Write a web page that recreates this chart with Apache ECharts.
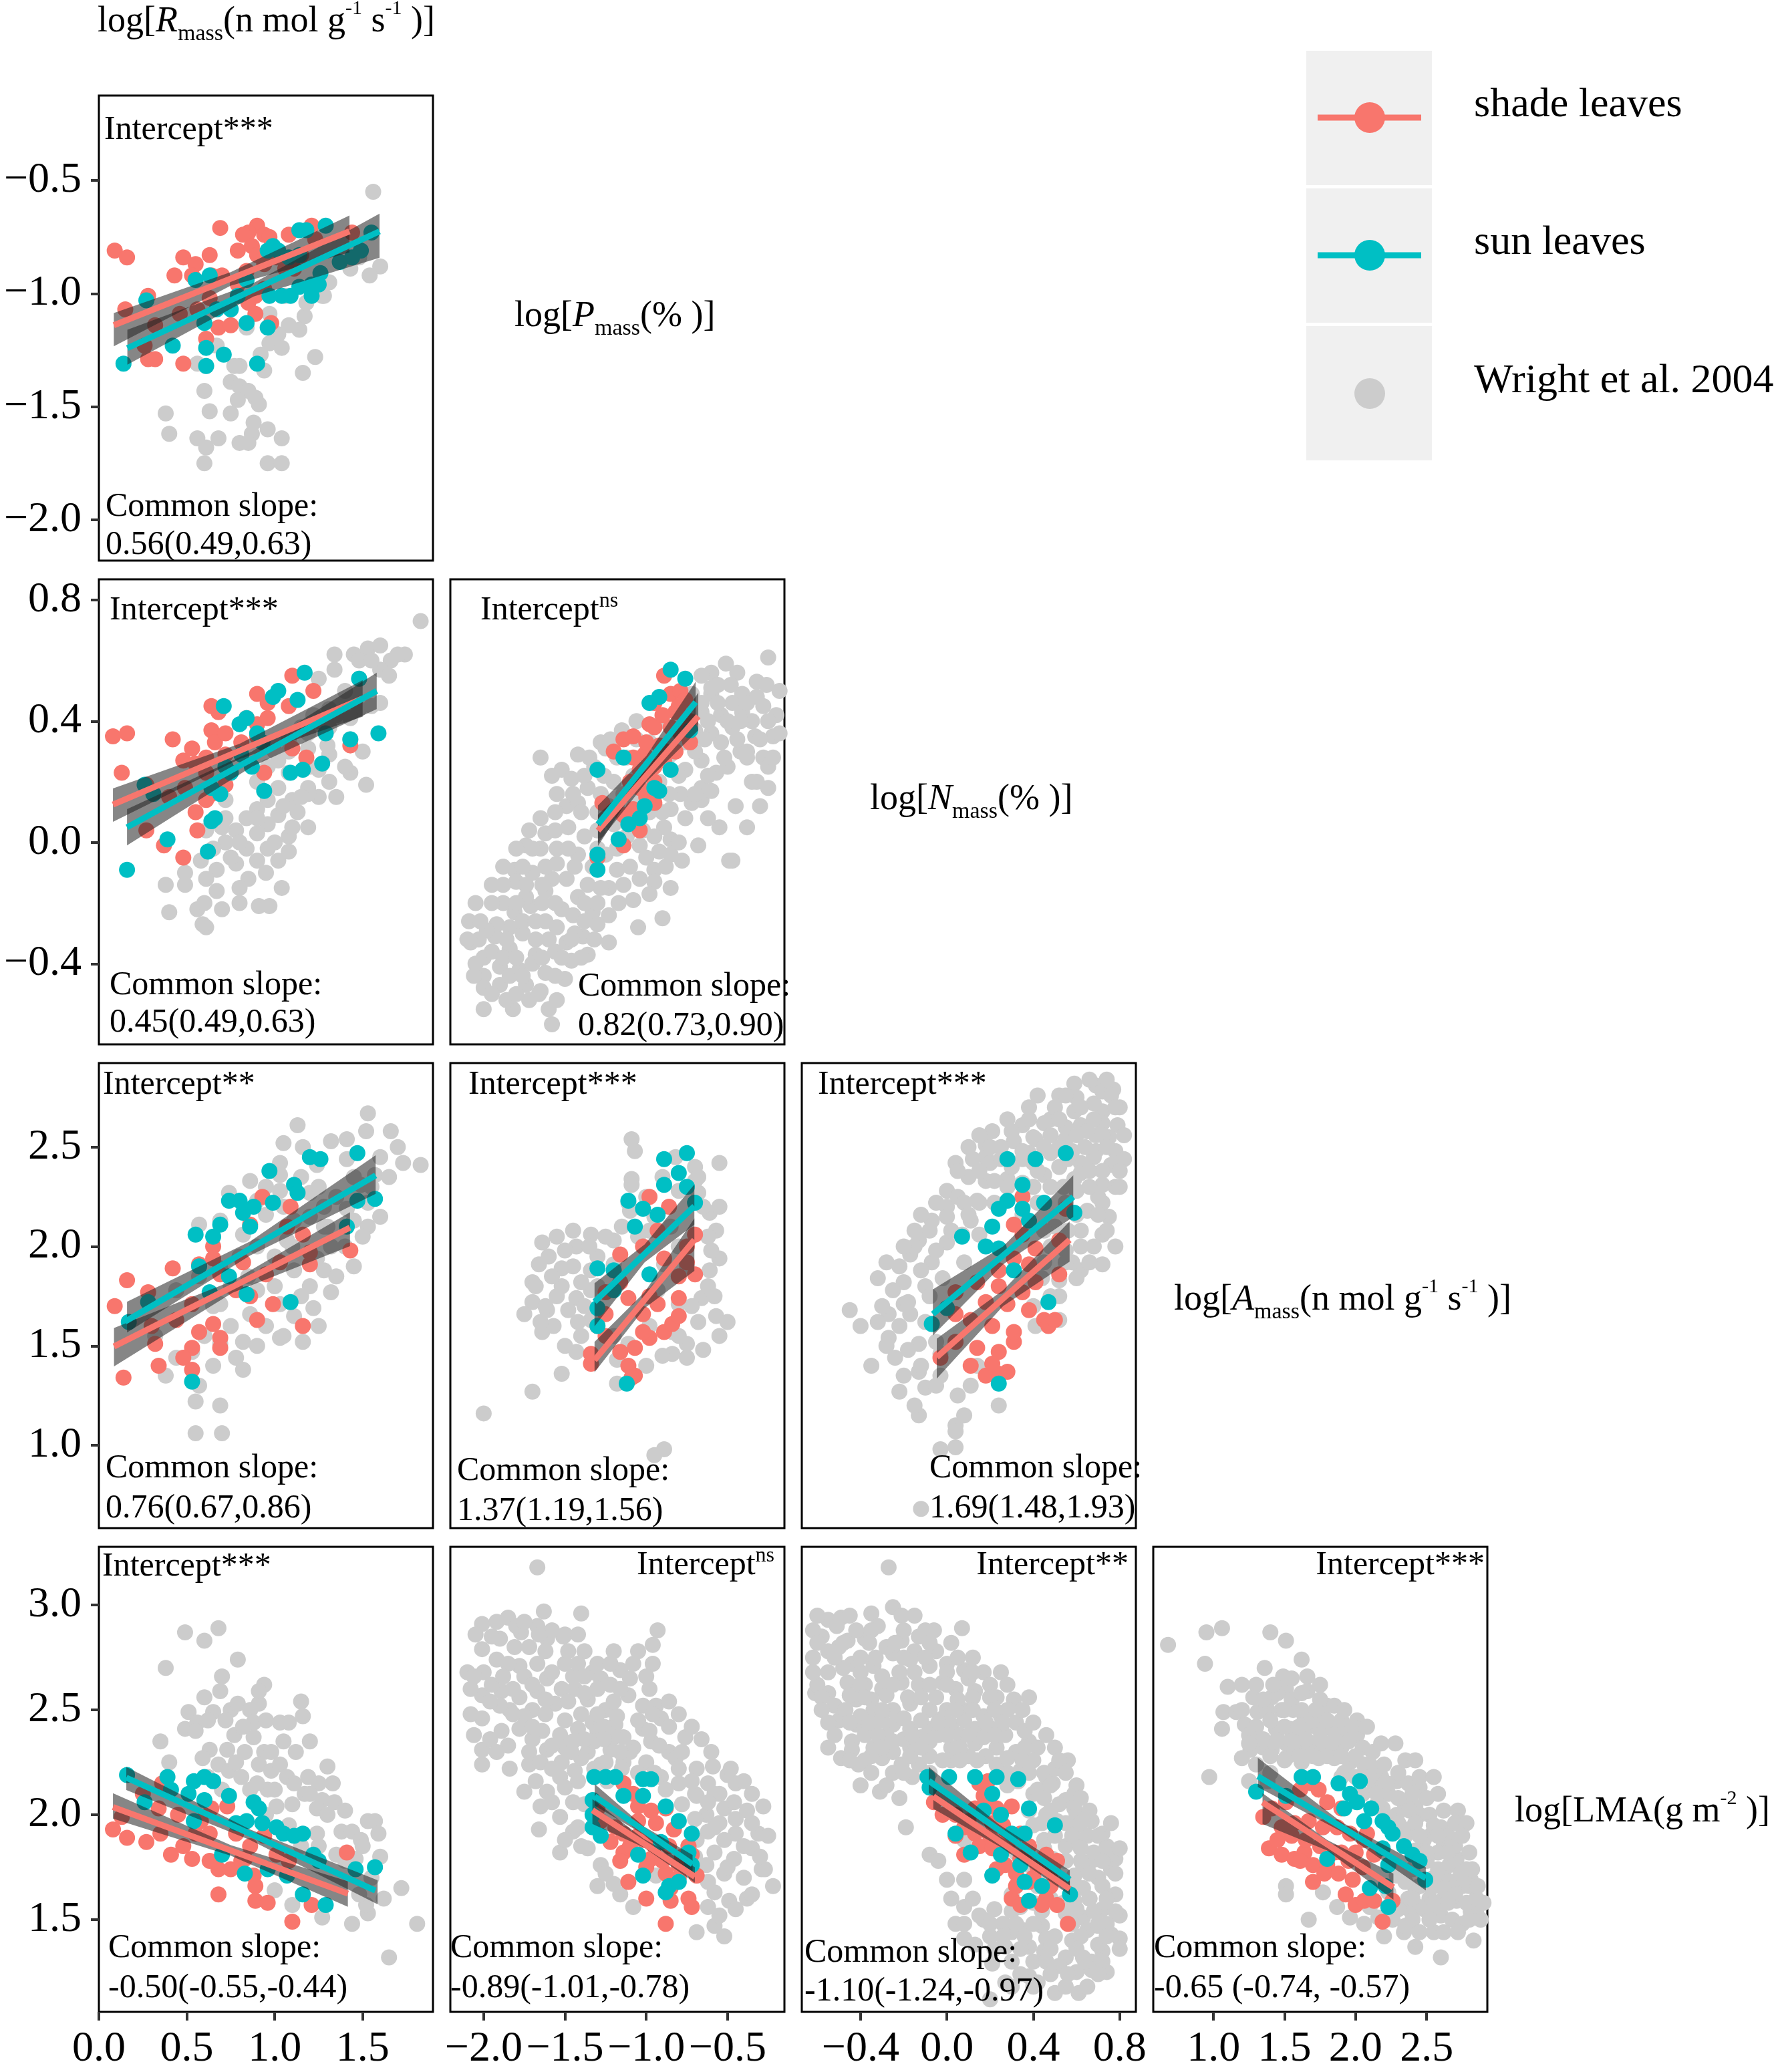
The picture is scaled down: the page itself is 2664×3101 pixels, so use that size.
<!DOCTYPE html>
<html><head><meta charset="utf-8">
<script src="https://cdn.jsdelivr.net/npm/echarts@6/dist/echarts.min.js"></script>
<style>html,body{margin:0;padding:0;background:#fff}#c{width:2664px;height:3101px}</style>
</head><body><div id="c"></div>
<script>
// ---------------- DATA ----------------
var xTicks = [[0, 0.5, 1.0, 1.5], [-2.0, -1.5, -1.0, -0.5], [-0.4, 0.0, 0.4, 0.8], [1.0, 1.5, 2.0, 2.5]];
var yTicks = [[-0.5, -1.0, -1.5, -2.0], [0.8, 0.4, 0.0, -0.4], [2.5, 2.0, 1.5, 1.0], [3.0, 2.5, 2.0, 1.5]];
var xRanges = [[0, 1.90], [-2.205, -0.15], [-0.672, 0.875], [0.576, 2.927]];
var yRanges = [[-2.18, -0.125], [-0.666, 0.868], [0.583, 2.923], [1.06, 3.278]];

// Panel r1c1: x = log Rmass, y = log Pmass
var wright_r1c1 = [[1.56,-0.55],[1.60,-0.88],[1.54,-0.92],[1.43,-0.89],[1.48,-0.84],[1.31,-0.95],[1.27,-1.01],[1.17,-1.10],[1.14,-1.16],[1.08,-1.14],[1.02,-1.18],[0.97,-1.22],[1.04,-1.24],[0.92,-1.27],[1.23,-1.28],[1.16,-1.35],[0.94,-1.34],[0.84,-1.15],[0.80,-1.32],[0.77,-1.32],[0.61,-1.32],[0.56,-1.31],[0.67,-1.23],[0.75,-1.39],[0.80,-1.41],[0.85,-1.43],[0.89,-1.46],[0.79,-1.47],[0.60,-1.43],[0.63,-1.52],[0.75,-1.53],[0.91,-1.49],[0.88,-1.57],[0.87,-1.62],[0.38,-1.53],[0.40,-1.62],[0.56,-1.64],[0.61,-1.68],[0.68,-1.64],[0.80,-1.66],[0.85,-1.66],[0.96,-1.60],[1.04,-1.64],[0.60,-1.75],[0.96,-1.75],[1.04,-1.75],[1.06,-1.01],[1.18,-1.04],[1.28,-1.01],[0.97,-1.09]];
var shade_r1c1 = [[0.09,-0.81],[0.16,-0.84],[0.69,-0.71],[0.90,-0.70],[0.85,-0.73],[0.82,-0.74],[0.94,-0.74],[0.97,-0.75],[1.08,-0.74],[1.21,-0.70],[1.44,-0.73],[1.23,-0.76],[0.63,-0.83],[0.48,-0.84],[0.55,-0.87],[0.43,-0.92],[0.53,-0.92],[0.64,-0.92],[0.70,-0.92],[0.79,-0.81],[0.87,-0.79],[0.90,-0.83],[0.94,-0.87],[1.01,-0.84],[1.15,-0.83],[1.11,-0.89],[0.84,-0.90],[0.79,-0.96],[0.89,-1.01],[0.94,-0.98],[0.85,-1.04],[0.28,-1.01],[0.15,-1.07],[0.63,-1.02],[0.56,-1.07],[0.46,-1.09],[0.32,-1.14],[0.26,-1.23],[0.28,-1.29],[0.32,-1.29],[0.48,-1.31],[0.61,-1.20],[0.68,-1.15],[0.75,-1.14],[0.89,-1.09],[0.98,-1.13],[1.06,-0.89]];
var sun_r1c1 = [[0.14,-1.31],[0.27,-1.03],[0.42,-1.23],[0.55,-0.94],[0.63,-0.92],[0.60,-1.13],[0.67,-1.07],[0.75,-1.07],[0.61,-1.24],[0.71,-1.27],[0.61,-1.32],[0.84,-1.13],[0.90,-1.31],[0.96,-1.15],[0.97,-1.01],[0.96,-0.81],[0.99,-0.79],[1.08,-0.84],[1.14,-0.83],[1.18,-0.72],[1.29,-0.70],[1.14,-0.72],[1.21,-0.96],[1.26,-0.91],[1.37,-0.86],[1.44,-0.84],[1.49,-0.81],[1.55,-0.73],[1.04,-1.01],[1.09,-1.01],[1.14,-0.97],[1.21,-1.01],[1.25,-0.96],[0.79,-1.01],[0.84,-0.94],[1.02,-0.81]];
var shadeLine_r1c1 = [[0.085,-1.14],[1.425,-0.725]];
var sunLine_r1c1 = [[0.162,-1.241],[1.596,-0.725]];
var shadeBand_r1c1 = [0.085,-1.233,-1.086, 0.75,-0.965,-0.905, 1.425,-0.818,-0.655];
var sunBand_r1c1 = [0.162,-1.314,-1.160, 0.88,-1.013,-0.953, 1.596,-0.842,-0.647];

// Panel r2c1: x = log Rmass, y = log Nmass
var wright_r2c1 = [[1.83,0.73],[1.74,0.62],[1.66,0.60],[1.53,0.64],[1.45,0.62],[1.34,0.62],[1.48,0.60],[1.60,0.57],[1.34,0.57],[1.25,0.54],[1.48,0.54],[1.60,0.46],[1.48,0.44],[1.43,0.41],[1.31,0.44],[1.22,0.42],[1.31,0.38],[1.19,0.36],[1.08,0.34],[1.19,0.31],[1.31,0.29],[1.25,0.24],[1.43,0.23],[1.52,0.19],[1.31,0.20],[1.19,0.18],[1.25,0.15],[1.10,0.14],[1.02,0.18],[0.96,0.14],[1.13,0.10],[1.19,0.05],[1.02,0.09],[0.90,0.11],[0.84,0.08],[0.96,0.06],[1.08,0.02],[0.90,0.03],[0.78,0.04],[0.72,0.00],[0.84,-0.02],[0.96,-0.02],[1.08,-0.03],[1.02,-0.06],[0.90,-0.06],[0.78,-0.07],[0.67,-0.09],[0.58,-0.06],[0.49,-0.10],[0.61,-0.12],[0.49,-0.14],[0.67,-0.16],[0.38,-0.14],[0.56,-0.22],[0.40,-0.23],[0.61,-0.28],[0.59,-0.27],[0.80,-0.20],[0.91,-0.21],[0.97,-0.21],[1.04,-0.15],[1.19,0.16],[1.08,0.23],[1.02,0.27],[1.08,0.30],[0.72,0.08],[0.61,0.04],[0.72,0.14],[0.96,0.25],[1.43,0.34],
  [0.70,0.05],[0.80,0.00],[0.90,0.08],[1.00,0.00],[1.10,0.05],[1.15,0.15],[1.05,0.12],[0.95,-0.10],[0.85,-0.12],[0.75,-0.05],[0.65,-0.02],[0.60,-0.20],[0.70,-0.22],[0.80,-0.15],[1.20,0.25],[1.30,0.32],[1.35,0.15],[1.40,0.25],[1.50,0.30],[1.55,0.45],[1.65,0.55],[1.55,0.60],[1.40,0.50],[1.35,0.42],[1.25,0.40],[1.15,0.38],[1.00,0.30],[0.90,0.20],[1.70,0.62],[1.60,0.65]];
var shade_r2c1 = [[0.08,0.35],[0.16,0.36],[0.13,0.23],[0.27,0.19],[0.27,0.04],[0.37,-0.01],[0.48,-0.05],[0.42,0.34],[0.48,0.27],[0.53,0.31],[0.55,0.26],[0.55,0.10],[0.56,0.04],[0.61,0.28],[0.64,0.45],[0.68,0.43],[0.64,0.37],[0.66,0.33],[0.61,0.23],[0.64,0.16],[0.61,0.14],[0.72,0.36],[0.84,0.41],[0.90,0.49],[0.90,0.39],[0.81,0.33],[0.72,0.29],[0.49,0.18],[0.40,0.15],[0.96,0.46],[0.96,0.41],[0.90,0.35],[0.94,0.23],[1.10,0.55],[1.08,0.45],[1.22,0.50],[1.10,0.31],[1.18,0.28],[1.43,0.32],[0.72,0.19]];
var sun_r2c1 = [[0.16,-0.09],[0.39,0.01],[0.62,-0.03],[0.64,0.07],[0.66,0.08],[0.26,0.19],[0.31,0.16],[0.64,0.18],[0.69,0.16],[0.72,0.25],[0.71,0.45],[0.80,0.39],[0.84,0.41],[0.90,0.36],[0.93,0.33],[0.81,0.29],[0.87,0.25],[0.75,0.23],[0.94,0.17],[1.02,0.50],[0.99,0.48],[1.13,0.47],[1.17,0.56],[1.09,0.23],[1.16,0.24],[1.27,0.26],[1.29,0.36],[1.43,0.34],[1.48,0.54],[1.59,0.36]];
var shadeLine_r2c1 = [[0.08,0.125],[1.50,0.475]];
var sunLine_r2c1 = [[0.16,0.05],[1.58,0.50]];
var shadeBand_r2c1 = [0.08,0.068,0.178, 0.80,0.275,0.325, 1.50,0.415,0.535];
var sunBand_r2c1 = [0.16,-0.01,0.11, 0.87,0.25,0.30, 1.58,0.44,0.56];

// Panel r2c2: x = log Pmass, y = log Nmass
var wright_r2c2 = [[-0.25,0.61],[-0.51,0.59],[-0.60,0.56],[-0.41,0.49],[-0.32,0.48],[-0.60,0.49],[-0.47,0.46],[-0.22,0.35],[-0.41,0.43],[-0.54,0.42],[-0.66,0.43],[-0.47,0.38],[-0.60,0.36],[-0.70,0.37],[-0.76,0.33],[-0.54,0.33],[-0.38,0.30],[-0.28,0.28],[-0.25,0.25],[-0.32,0.20],[-0.30,0.12],[-0.47,-0.06],[-0.57,0.23],[-0.66,0.27],[-0.76,0.24],[-0.66,0.18],[-0.79,0.16],[-0.66,0.14],[-0.85,0.11],[-0.76,0.08],[-0.89,0.05],[-0.85,0.01],[-0.92,-0.03],[-0.85,-0.04],[-0.95,-0.09],[-1.04,-0.12],[-0.95,-0.13],[-1.23,-0.15],[-1.17,-0.20],[-1.23,-0.24],[-1.33,-0.23],[-1.42,-0.18],[-1.49,-0.12],[-1.55,-0.07],[-1.65,-0.02],[-1.74,-0.01],[-1.81,-0.09],[-1.62,-0.16],[-1.71,-0.21],[-1.81,-0.23],[-1.84,-0.28],[-1.93,-0.31],[-2.03,-0.32],[-2.09,-0.26],[-2.00,-0.38],[-1.90,-0.41],[-2.00,-0.44],[-2.00,-0.55],[-1.82,-0.55],[-2.00,-0.48],[-1.74,-0.47],[-1.65,-0.49],[-1.55,-0.52],[-1.58,-0.60],[-1.46,-0.39],[-1.36,-0.37],[-1.23,-0.33],[-1.68,-0.32],[-1.55,-0.28],[-1.68,-0.37],[-1.84,-0.35],[-1.49,-0.33],[-1.39,-0.31],[-1.74,-0.18],[-1.65,0.08],[-1.42,0.29],[-1.25,0.31],[-1.65,0.28],[-1.52,0.24],[-1.36,0.18],[-1.49,0.12],[-1.23,0.12],[-1.11,0.07],[-1.04,-0.01],[-0.98,-0.17],[-1.08,-0.19],[-0.49,-0.06],[-0.33,0.35],[-0.60,0.51],[-0.66,0.55],[-0.85,0.29],[-1.01,0.18],[-1.04,0.27],
  [-2.05,-0.40],[-1.95,-0.36],[-1.90,-0.47],[-1.86,-0.52],[-1.78,-0.42],[-1.72,-0.52],[-1.70,-0.40],[-1.62,-0.43],[-1.60,-0.55],[-1.56,-0.36],[-1.50,-0.45],[-1.44,-0.30],[-1.92,-0.27],[-1.98,-0.29],[-2.08,-0.33],[-1.76,-0.30],[-1.62,-0.26],[-1.52,-0.22],[-1.88,-0.20],[-1.95,-0.14],[-1.80,-0.13],[-1.70,-0.10],[-1.58,-0.12],[-1.45,-0.24],[-1.38,-0.20],[-1.30,-0.27],[-1.28,-0.15],[-1.33,-0.08],[-1.42,-0.04],[-1.55,-0.02],[-1.62,0.03],[-1.48,0.05],[-1.38,0.02],[-1.25,-0.04],[-1.18,-0.09],[-1.12,0.02],[-1.20,0.06],[-1.30,0.10],[-1.42,0.13],[-1.55,0.16],[-1.58,0.22],[-1.46,0.21],[-1.32,0.25],[-1.20,0.20],[-1.08,0.15],[-0.98,0.10],[-0.92,0.20],[-1.00,0.26],[-1.12,0.28],[-1.28,0.33],[-1.15,0.37],[-0.98,0.33],[-0.90,0.40],[-0.80,0.44],[-0.72,0.49],[-0.56,0.46],[-0.50,0.40],[-0.62,0.40],[-0.70,0.30],[-0.80,0.22],[-0.72,0.13],[-0.60,0.17],[-0.50,0.25],[-0.42,0.30],[-0.35,0.40],[-0.28,0.45],[-0.20,0.42],[-0.22,0.28],[-0.35,0.20],[-0.45,0.12],[-0.55,0.05],[-0.62,0.08],[-0.80,0.00],[-0.88,-0.08],[-0.78,-0.06],[-0.68,-0.01],[-0.95,0.02],[-1.05,0.05],[-1.00,-0.05],[-0.44,0.56],[-0.32,0.53],[-0.18,0.50],[-0.18,0.36],[-0.25,0.18],[-0.38,0.05],[-0.90,-0.25],[-0.85,-0.15],[-1.05,-0.28],
  [-1.95,-0.50],[-1.80,-0.50],[-1.66,-0.50],[-2.06,-0.44],[-1.84,-0.44],[-1.76,-0.44],[-1.56,-0.44],[-1.88,-0.38],[-1.80,-0.38],[-1.64,-0.38],[-1.52,-0.38],[-1.40,-0.38],[-2.10,-0.32],[-1.86,-0.32],[-1.60,-0.32],[-1.46,-0.32],[-1.32,-0.32],[-2.02,-0.26],[-1.76,-0.26],[-1.68,-0.26],[-1.38,-0.26],[-2.05,-0.20],[-1.95,-0.20],[-1.80,-0.20],[-1.64,-0.20],[-1.56,-0.20],[-1.30,-0.20],[-1.88,-0.14],[-1.74,-0.14],[-1.64,-0.14],[-1.36,-0.14],[-1.14,-0.14],[-1.88,-0.08],[-1.76,-0.08],[-1.62,-0.08],[-1.44,-0.08],[-1.10,-0.08],[-1.80,-0.02],[-1.70,-0.02],[-1.48,-0.02],[-1.30,-0.02],[-1.18,-0.02],[-1.72,0.04],[-1.56,0.04],[-1.30,0.04],[-1.02,0.04],[-1.56,0.10],[-1.40,0.10],[-1.16,0.10],[-0.90,0.10],[-1.45,0.16],[-1.28,0.16],[-1.14,0.16],[-0.86,0.16],[-0.70,0.16],[-1.38,0.22],[-1.26,0.22],[-1.08,0.22],[-0.62,0.22],[-1.35,0.28],[-1.18,0.28],[-0.90,0.28],[-0.52,0.28],[-0.38,0.28],[-1.22,0.34],[-1.06,0.34],[-0.64,0.34],[-0.44,0.34],[-0.30,0.34],[-1.06,0.40],[-0.76,0.40],[-0.42,0.40],[-0.25,0.40],[-0.66,0.46],[-0.38,0.46],[-0.56,0.52],[-0.48,0.52],[-0.26,0.52]];
var shade_r2c2 = [[-0.89,0.55],[-0.85,0.49],[-0.79,0.50],[-0.76,0.47],[-0.95,0.46],[-0.82,0.43],[-0.98,0.39],[-0.85,0.38],[-0.79,0.36],[-0.73,0.40],[-0.73,0.33],[-1.14,0.34],[-1.08,0.35],[-1.20,0.30],[-0.92,0.32],[-1.01,0.29],[-0.89,0.27],[-1.04,0.24],[-0.95,0.20],[-1.04,0.18],[-0.95,0.13],[-1.08,0.11],[-1.14,0.09],[-1.04,0.04],[-1.14,-0.01],[-1.30,-0.05],[-1.27,0.13],[-0.82,0.30],[-1.08,0.28],[-1.00,0.33],[-0.95,0.38],[-0.90,0.42],[-0.88,0.30],[-1.10,0.20],[-0.95,0.25],[-1.00,0.15],[-0.80,0.45],[-0.78,0.38]];
var sun_r2c2 = [[-0.85,0.57],[-0.76,0.54],[-0.98,0.46],[-0.92,0.48],[-1.30,0.24],[-1.14,0.28],[-0.85,0.24],[-0.73,0.37],[-0.92,0.17],[-1.01,0.12],[-1.17,0.01],[-1.04,0.08],[-1.11,0.06],[-1.30,-0.04],[-1.30,-0.09],[-0.95,0.18]];
var shadeLine_r2c2 = [[-1.297,0.039],[-0.68,0.416]];
var sunLine_r2c2 = [[-1.297,0.06],[-0.696,0.463]];
var shadeBand_r2c2 = [-1.297,-0.002,0.091, -0.99,0.205,0.245, -0.68,0.37,0.494];
var sunBand_r2c2 = [-1.297,-0.012,0.122, -1.0,0.235,0.285, -0.696,0.39,0.53];

// Panel r3c1: x = log Rmass, y = log Amass
var wright_r3c1 = [[1.53,2.67],[1.13,2.61],[1.52,2.58],[1.66,2.58],[1.73,2.42],[1.83,2.41],[1.05,2.52],[1.16,2.50],[1.32,2.53],[1.41,2.54],[1.03,2.42],[1.03,2.36],[1.24,2.41],[1.41,2.44],[1.57,2.36],[1.49,2.31],[1.20,2.27],[1.03,2.28],[0.86,2.33],[0.74,2.27],[0.90,2.23],[1.28,2.20],[1.41,2.19],[1.53,2.22],[1.45,2.13],[1.53,2.10],[1.28,2.10],[1.11,2.13],[0.95,2.16],[0.69,2.13],[0.57,2.11],[0.82,2.06],[1.07,2.03],[1.32,2.00],[1.24,1.94],[1.11,1.88],[1.28,1.88],[1.32,1.77],[1.22,1.69],[1.03,1.71],[1.11,1.65],[0.86,1.66],[0.69,1.71],[0.95,1.60],[1.16,1.52],[1.03,1.54],[0.82,1.52],[0.69,1.51],[0.78,1.44],[0.82,1.38],[0.65,1.40],[0.57,1.30],[0.38,1.35],[0.55,1.22],[0.69,1.20],[0.55,1.06],[0.70,1.06],[0.44,1.44],[0.53,1.47],[0.32,1.55],[0.90,1.78],[1.20,1.80],[0.44,1.78],[0.57,1.85],[0.69,1.89],
  [0.95,2.30],[1.05,2.20],[1.15,2.35],[1.25,2.30],[1.35,2.25],[1.45,2.35],[1.55,2.30],[1.60,2.15],[1.50,2.05],[1.40,2.00],[1.30,2.10],[1.20,2.15],[1.10,2.00],[1.00,1.95],[0.90,2.00],[0.80,1.95],[0.75,1.80],[0.85,1.85],[1.00,1.80],[1.15,1.75],[1.35,1.85],[1.45,1.90],[1.25,1.60],[1.05,1.55],[0.90,1.50],[0.75,1.60],[0.65,1.70],[0.60,1.55],[1.65,2.35],[1.70,2.50],[1.60,2.45]];
var shade_r3c1 = [[0.09,1.70],[0.16,1.83],[0.14,1.34],[0.28,1.77],[0.42,1.89],[0.34,1.40],[0.44,1.63],[0.57,1.91],[0.65,2.00],[0.65,1.94],[0.86,2.11],[0.93,2.25],[1.09,2.20],[1.07,2.10],[1.16,2.06],[0.69,1.86],[0.82,1.92],[0.95,1.86],[1.03,1.92],[1.20,1.97],[1.43,1.98],[1.20,1.91],[0.86,1.75],[0.99,1.71],[0.90,1.63],[1.16,1.60],[0.65,1.61],[0.57,1.57],[0.69,1.54],[0.53,1.49],[0.69,1.49],[0.48,1.44],[0.53,1.38],[0.32,1.51],[0.30,1.60],[0.78,1.78],[0.53,1.71]];
var sun_r3c1 = [[0.17,1.62],[0.28,1.72],[0.53,1.32],[0.55,2.06],[0.65,2.05],[0.74,2.23],[0.80,2.23],[0.69,2.11],[0.82,2.17],[0.88,2.20],[0.97,2.38],[0.99,2.22],[1.11,2.31],[1.13,2.27],[1.20,2.45],[1.26,2.44],[1.47,2.47],[0.57,1.90],[0.74,1.85],[0.84,1.76],[1.09,1.72],[0.63,1.77],[0.86,2.10],[1.47,2.23],[1.57,2.24],[1.41,2.10]];
var shadeLine_r3c1 = [[0.086,1.497],[1.428,2.095]];
var sunLine_r3c1 = [[0.149,1.622],[1.574,2.358]];
var shadeBand_r3c1 = [0.086,1.397,1.590, 0.76,1.767,1.827, 1.428,2.002,2.172];
var sunBand_r3c1 = [0.16,1.567,1.722, 0.86,1.955,2.025, 1.574,2.265,2.459];

// Panel r3c2: x = log Pmass, y = log Amass
var wright_r3c2 = [[-1.09,2.54],[-1.07,2.48],[-1.09,2.34],[-1.09,2.31],[-0.55,2.42],[-1.64,2.02],[-1.34,2.06],[-1.43,2.00],[-1.20,2.03],[-1.66,1.91],[-1.52,1.89],[-1.34,1.88],[-1.20,1.91],[-1.70,1.82],[-1.52,1.80],[-1.34,1.78],[-1.70,1.72],[-1.75,1.66],[-1.61,1.68],[-1.43,1.74],[-1.57,1.60],[-1.64,1.57],[-1.34,1.63],[-1.43,1.47],[-1.52,1.36],[-1.70,1.27],[-2.00,1.16],[-1.18,1.31],[-0.95,0.95],[-0.89,0.98],[-0.75,1.44],[-0.84,1.46],[-0.75,1.51],[-0.57,1.65],[-0.50,1.62],[-0.66,1.74],[-0.55,1.94],[-0.61,1.88],[-0.57,2.08],[-0.61,2.17],[-0.55,2.20],[-0.68,2.27],[-0.70,2.33],[-1.11,2.22],[-0.98,2.08],[-0.80,2.00],[-0.89,1.91],[-0.93,1.78],[-0.80,1.71],[-0.98,1.60],[-1.11,1.51],[-1.18,1.43],[-0.84,1.57],
  [-1.60,1.95],[-1.50,1.98],[-1.45,1.90],[-1.40,1.82],[-1.55,1.75],[-1.48,1.68],[-1.38,1.70],[-1.30,1.80],[-1.30,1.95],[-1.25,2.05],[-1.15,2.10],[-1.10,2.18],[-1.00,2.25],[-0.90,2.35],[-0.82,2.45],[-0.70,2.40],[-0.65,2.20],[-0.60,1.98],[-0.62,1.80],[-0.68,1.62],[-0.80,1.55],[-0.90,1.45],[-1.00,1.40],[-1.20,1.55],[-1.40,1.55],[-1.50,1.50],[-1.68,1.80],[-1.62,1.70],[-0.55,1.55],[-0.65,1.48],[-1.05,2.05],[-0.95,2.15],[-0.85,2.10],
  [-1.55,2.05],[-1.45,2.08],[-1.35,2.00],[-1.65,1.62],[-1.58,1.85],[-1.42,1.62],[-0.72,1.70],[-0.62,2.05],[-0.68,2.35],[-0.80,2.28],[-0.75,1.90],[-0.58,1.75]];
var shade_r3c2 = [[-0.98,2.25],[-0.86,2.20],[-1.16,1.96],[-1.16,1.82],[-1.25,1.77],[-1.11,1.74],[-0.98,1.75],[-1.02,1.66],[-1.25,1.66],[-1.34,1.41],[-1.16,1.47],[-1.07,1.49],[-0.98,1.54],[-1.11,1.40],[-1.07,1.35],[-1.09,1.34],[-0.89,1.57],[-0.84,1.61],[-0.80,1.65],[-0.80,1.85],[-0.70,1.86],[-0.75,1.92],[-0.70,2.06],[-0.75,2.00],[-0.93,2.08],[-1.02,2.00],[-0.89,1.94],[-1.25,1.55],[-1.30,1.60],[-1.34,1.46],[-1.02,1.57],[-0.80,1.74],[-0.93,1.71]];
var sun_r3c2 = [[-1.12,1.31],[-0.89,2.44],[-0.75,2.47],[-0.80,2.37],[-0.89,2.31],[-1.11,2.23],[-1.02,2.19],[-0.93,2.16],[-0.75,2.30],[-0.70,2.22],[-1.07,2.10],[-1.30,1.89],[-1.20,1.88],[-1.30,1.69],[-1.30,1.60],[-1.20,1.78],[-0.98,1.86]];
var shadeLine_r3c2 = [[-1.318,1.428],[-0.704,2.033]];
var sunLine_r3c2 = [[-1.318,1.722],[-0.704,2.203]];
var shadeBand_r3c2 = [-1.318,1.367,1.520, -1.01,1.69,1.77, -0.704,1.877,2.141];
var sunBand_r3c2 = [-1.318,1.598,1.815, -1.01,1.92,2.01, -0.704,2.110,2.312];

// Panel r3c3: x = log Nmass, y = log Amass
var wright_r3c3 = [[0.59,2.82],[0.69,2.81],[0.77,2.79],[0.52,2.76],[0.59,2.68],[0.72,2.68],[0.48,2.64],[0.62,2.61],[0.72,2.62],[0.35,2.61],[0.21,2.58],[0.41,2.54],[0.55,2.54],[0.69,2.56],[0.31,2.53],[0.18,2.51],[0.04,2.42],[0.18,2.45],[0.38,2.47],[0.48,2.47],[0.62,2.42],[0.76,2.41],[0.69,2.48],[0.79,2.61],[0.72,2.31],[0.59,2.34],[0.45,2.36],[0.28,2.34],[0.18,2.33],[0.00,2.28],[0.14,2.23],[0.00,2.20],[-0.07,2.13],[0.11,2.13],[-0.13,2.03],[0.00,2.02],[0.07,2.06],[-0.17,1.96],[-0.07,1.92],[-0.20,1.82],[-0.10,1.80],[-0.20,1.71],[-0.27,1.66],[-0.17,1.66],[-0.27,1.54],[-0.13,1.51],[-0.03,1.46],[-0.13,1.37],[-0.10,1.29],[-0.22,1.27],[-0.13,1.15],[0.04,1.10],[0.04,1.07],[-0.03,0.98],[0.04,0.99],[0.11,1.30],[0.14,1.40],[0.24,1.20],[0.41,1.60],[0.52,1.63],[0.52,1.75],[0.52,1.83],[0.62,1.88],[0.72,1.91],[0.72,2.06],[0.52,2.03],[-0.24,1.44],[-0.12,0.68],[-0.03,1.35],
  [0.60,2.75],[0.68,2.72],[0.50,2.70],[0.45,2.62],[0.55,2.60],[0.65,2.58],[0.75,2.55],[0.30,2.58],[0.40,2.55],[0.25,2.50],[0.35,2.48],[0.45,2.50],[0.58,2.48],[0.68,2.45],[0.78,2.48],[0.20,2.42],[0.30,2.40],[0.40,2.42],[0.52,2.40],[0.62,2.37],[0.72,2.38],[0.10,2.35],[0.22,2.33],[0.35,2.32],[0.48,2.30],[0.60,2.28],[0.70,2.25],[0.05,2.25],[0.15,2.22],[0.42,2.22],[0.65,2.18],[0.75,2.15],[0.00,2.15],[-0.08,2.08],[0.15,2.06],[0.50,2.10],[0.62,2.08],[0.55,1.98],[0.68,2.00],[-0.15,2.00],[-0.05,1.98],[0.08,1.92],[-0.22,1.90],[-0.12,1.88],[-0.25,1.78],[-0.30,1.70],[-0.18,1.72],[-0.08,1.75],[-0.32,1.62],[-0.22,1.60],[-0.10,1.62],[-0.28,1.50],[-0.18,1.48],[-0.05,1.52],[-0.12,1.40],[-0.20,1.35],[-0.05,1.30],[0.05,1.25],[-0.15,1.20],[0.08,1.15],[0.40,1.70],[0.48,1.75],[0.58,1.92],[0.78,2.30],[0.80,2.70],[0.72,2.78],[-0.40,1.60],[-0.45,1.68],[-0.35,1.40],
  [0.66,2.84],[0.74,2.84],[0.42,2.76],[0.55,2.76],[0.76,2.76],[0.38,2.70],[0.62,2.70],[0.78,2.70],[0.28,2.64],[0.38,2.64],[0.52,2.64],[0.68,2.64],[0.15,2.56],[0.48,2.56],[0.60,2.56],[0.72,2.56],[0.82,2.56],[0.10,2.50],[0.20,2.50],[0.52,2.50],[0.64,2.50],[0.74,2.50],[0.12,2.44],[0.25,2.44],[0.35,2.44],[0.56,2.44],[0.82,2.44],[0.05,2.38],[0.15,2.38],[0.42,2.38],[0.66,2.38],[0.80,2.38],[0.28,2.30],[0.40,2.30],[0.54,2.30],[0.66,2.30],[0.80,2.30],[-0.05,2.22],[0.08,2.22],[0.22,2.22],[0.55,2.22],[0.72,2.22],[-0.12,2.16],[0.10,2.16],[0.35,2.16],[0.60,2.16],[0.70,2.16],[-0.15,2.08],[0.02,2.08],[0.45,2.08],[0.56,2.08],[0.74,2.08],[-0.20,2.00],[0.48,2.00],[0.62,2.00],[0.78,2.00],[-0.28,1.92],[0.45,1.92],[0.55,1.92],[0.66,1.92],[-0.32,1.84],[-0.02,1.84],[0.44,1.84],[0.60,1.84]];
var shade_r3c3 = [[-0.03,1.44],[0.11,1.40],[0.18,1.35],[0.24,1.36],[0.04,1.52],[0.14,1.49],[0.24,1.47],[0.31,1.52],[0.31,1.57],[0.21,1.60],[0.11,1.63],[0.04,1.66],[0.18,1.72],[0.28,1.71],[0.38,1.68],[0.45,1.63],[0.47,1.60],[0.50,1.63],[0.35,1.77],[0.24,1.80],[0.41,1.82],[0.52,1.86],[0.38,1.91],[0.31,1.94],[0.41,1.99],[0.35,2.06],[0.31,2.11],[0.35,2.25],[0.55,2.19],[0.52,2.03],[0.24,1.88],[0.14,1.82],[0.04,1.77],[0.28,1.37],[0.21,1.41]];
var sun_r3c3 = [[-0.07,1.61],[0.07,2.05],[0.28,2.44],[0.41,2.44],[0.55,2.47],[0.35,2.31],[0.28,2.23],[0.24,2.19],[0.35,2.19],[0.38,2.13],[0.21,2.10],[0.45,2.22],[0.59,2.17],[0.18,2.00],[0.24,1.99],[0.31,1.88],[0.47,1.72],[0.24,1.31],[0.00,1.69]];
var shadeLine_r3c3 = [[-0.047,1.443],[0.568,2.033]];
var sunLine_r3c3 = [[-0.065,1.660],[0.585,2.250]];
var shadeBand_r3c3 = [-0.047,1.335,1.536, 0.26,1.70,1.78, 0.568,1.924,2.126];
var sunBand_r3c3 = [-0.065,1.552,1.784, 0.26,1.91,2.00, 0.585,2.149,2.358];

// Panel r4c1: x = log Rmass, y = log LMA
var wright_r4c1 = [[0.49,2.87],[0.60,2.83],[0.68,2.89],[0.38,2.70],[0.79,2.74],[0.70,2.66],[0.35,2.35],[0.40,2.25],[0.60,2.56],[0.51,2.49],[0.49,2.41],[0.56,2.44],[0.65,2.49],[0.69,2.59],[0.75,2.50],[0.79,2.53],[0.86,2.50],[0.91,2.53],[0.94,2.62],[0.91,2.59],[0.88,2.44],[0.77,2.38],[0.73,2.31],[0.63,2.31],[0.59,2.27],[0.68,2.24],[0.74,2.21],[0.83,2.30],[0.88,2.37],[0.94,2.30],[0.91,2.24],[0.98,2.21],[1.03,2.24],[1.07,2.18],[1.03,2.44],[1.08,2.44],[1.15,2.54],[1.16,2.47],[1.11,2.15],[1.19,2.18],[1.30,2.23],[1.25,2.15],[1.33,2.15],[1.17,2.10],[1.27,2.07],[1.34,2.06],[1.24,2.03],[1.38,1.92],[1.44,1.92],[1.53,1.97],[1.57,1.97],[1.59,1.91],[1.49,1.88],[1.35,1.81],[1.46,1.79],[1.72,1.65],[1.81,1.48],[1.65,1.32],[1.53,1.53],[1.44,1.48],[1.27,1.51],[1.10,1.57],[1.00,1.64],[1.52,1.57],[0.96,2.12],[1.01,2.04],[0.81,2.18],[0.86,2.12],[0.98,2.30],[1.24,1.91],
  [0.55,2.40],[0.62,2.45],[0.72,2.45],[0.82,2.42],[0.95,2.45],[1.05,2.35],[1.12,2.30],[1.20,2.35],[0.62,2.18],[0.70,2.12],[0.78,2.25],[0.90,2.15],[1.00,2.12],[1.10,2.05],[1.20,2.10],[1.30,2.00],[1.40,2.02],[1.50,1.85],[1.40,1.78],[1.60,1.80],[1.55,1.70],[1.48,1.62],[1.62,1.60],[0.95,2.00],[1.08,1.95],[1.15,1.85],[1.25,1.85]];
var shade_r4c1 = [[0.08,1.93],[0.16,1.89],[0.13,1.99],[0.25,2.10],[0.27,1.87],[0.35,1.91],[0.36,2.15],[0.34,2.03],[0.41,1.81],[0.48,1.85],[0.53,1.79],[0.45,2.00],[0.55,1.91],[0.63,1.91],[0.64,2.03],[0.73,2.04],[0.68,1.74],[0.63,1.78],[0.75,1.74],[0.81,1.78],[0.88,1.71],[0.89,1.66],[0.89,1.59],[0.96,1.58],[0.68,1.62],[0.78,1.91],[0.86,1.85],[0.94,1.90],[1.01,1.81],[1.08,1.78],[1.21,1.57],[1.10,1.49],[1.41,1.82],[0.58,1.97],[0.83,1.79]];
var sun_r4c1 = [[0.16,2.19],[0.39,2.18],[0.41,2.12],[0.26,2.06],[0.54,2.16],[0.60,2.18],[0.65,2.16],[0.51,2.10],[0.60,2.07],[0.74,2.09],[0.88,2.06],[0.91,2.03],[0.78,1.96],[0.84,1.97],[0.93,1.96],[1.01,1.94],[1.05,1.91],[1.11,1.90],[1.16,1.91],[1.22,1.81],[1.25,1.78],[1.46,1.74],[1.57,1.75],[1.16,1.62],[1.29,1.57],[1.07,1.71],[0.96,1.74],[0.83,1.72],[0.70,1.81],[0.54,1.97]];
var shadeLine_r4c1 = [[0.08,2.037],[1.416,1.624]];
var sunLine_r4c1 = [[0.156,2.177],[1.572,1.639]];
var shadeBand_r4c1 = [0.08,1.982,2.103, 0.75,1.805,1.855, 1.416,1.561,1.683];
var sunBand_r4c1 = [0.156,2.118,2.228, 0.86,1.88,1.93, 1.585,1.573,1.688];

// Panel r4c2: x = log Pmass, y = log LMA
var wright_r4c2 = [[-1.67,3.18],[-2.01,2.91],[-1.85,2.94],[-1.63,2.97],[-1.40,2.96],[-1.67,2.90],[-1.77,2.87],[-1.90,2.84],[-2.01,2.79],[-1.81,2.80],[-1.61,2.84],[-1.51,2.85],[-0.93,2.88],[-0.96,2.81],[-0.96,2.72],[-2.10,2.68],[-2.00,2.68],[-1.92,2.74],[-1.78,2.71],[-1.67,2.72],[-1.75,2.66],[-1.61,2.65],[-1.50,2.72],[-1.30,2.72],[-1.16,2.69],[-1.33,2.68],[-2.01,2.57],[-1.89,2.59],[-1.78,2.56],[-1.67,2.59],[-1.84,2.50],[-1.70,2.50],[-1.56,2.53],[-1.44,2.60],[-1.36,2.55],[-1.28,2.65],[-1.25,2.50],[-1.11,2.57],[-1.02,2.52],[-0.94,2.52],[-0.91,2.46],[-2.01,2.46],[-2.06,2.38],[-2.01,2.31],[-2.01,2.24],[-1.89,2.40],[-1.78,2.41],[-1.64,2.40],[-1.53,2.38],[-1.42,2.41],[-1.33,2.44],[-1.19,2.43],[-1.14,2.37],[-1.02,2.41],[-1.72,2.30],[-1.61,2.31],[-1.50,2.32],[-1.36,2.30],[-1.22,2.31],[-1.08,2.32],[-0.97,2.35],[-0.76,2.37],[-1.72,2.24],[-1.44,2.21],[-1.28,2.24],[-1.14,2.25],[-1.00,2.25],[-0.86,2.30],[-0.69,2.22],[-0.59,2.23],[-0.50,2.19],[-1.53,2.18],[-1.42,2.16],[-0.91,2.18],[-0.80,2.15],[-1.75,2.11],[-1.61,2.11],[-1.50,2.13],[-0.58,2.10],[-0.69,2.09],[-0.52,2.03],[-0.35,2.10],[-0.28,2.04],[-1.65,2.04],[-1.53,1.99],[-1.42,1.94],[-1.66,1.93],[-0.63,2.00],[-0.58,1.94],[-0.69,1.88],[-0.45,1.91],[-0.31,1.91],[-0.35,1.84],[-0.46,1.79],[-0.58,1.82],[-0.29,1.74],[-0.27,1.74],[-0.22,1.66],[-0.52,1.72],[-0.63,1.76],[-0.69,1.71],[-0.58,1.63],[-0.49,1.59],[-0.38,1.60],[-1.53,1.82],[-1.36,1.84],[-1.28,1.76],[-1.16,1.62],[-1.30,1.66],[-1.08,1.56],[-0.69,1.44],[-0.58,1.47],[-0.52,1.42],[-0.94,1.71],[-0.74,1.85],
  [-1.95,2.85],[-1.80,2.90],[-1.72,2.80],[-1.58,2.88],[-1.48,2.78],[-1.85,2.72],[-1.95,2.62],[-1.70,2.62],[-1.58,2.68],[-1.45,2.66],[-1.38,2.58],[-1.22,2.62],[-1.10,2.65],[-1.90,2.52],[-1.75,2.47],[-1.62,2.55],[-1.50,2.45],[-1.40,2.48],[-1.30,2.40],[-1.18,2.47],[-1.05,2.45],[-0.98,2.40],[-1.96,2.36],[-1.85,2.33],[-1.70,2.36],[-1.58,2.33],[-1.45,2.35],[-1.32,2.35],[-1.20,2.37],[-1.10,2.30],[-0.92,2.33],[-0.82,2.27],[-1.65,2.25],[-1.52,2.25],[-1.40,2.27],[-1.25,2.25],[-1.15,2.22],[-1.05,2.20],[-0.95,2.20],[-0.88,2.12],[-0.78,2.05],[-0.70,1.98],[-0.62,1.92],[-0.52,1.88],[-0.45,1.98],[-0.40,1.85],[-0.50,1.75],[-0.40,1.70],[-0.35,1.62],[-0.45,1.55],[-0.55,1.52],[-0.62,1.56],[-0.30,1.80],[-0.25,1.90],[-0.38,2.02],[-0.62,2.15],[-0.55,2.10],[-0.70,2.10],[-0.45,2.15],[-1.38,2.05],[-1.45,1.92],[-1.50,1.88],[-1.40,1.85],[-1.25,1.72],[-1.20,1.67],[-0.62,1.68],[-0.70,1.80],
  [-1.92,2.92],[-1.75,2.92],[-2.05,2.86],[-1.66,2.86],[-1.50,2.86],[-1.42,2.86],[-1.62,2.78],[-1.38,2.78],[-1.20,2.78],[-1.05,2.78],[-1.42,2.72],[-1.22,2.72],[-1.08,2.72],[-2.06,2.66],[-1.88,2.66],[-1.38,2.66],[-1.00,2.66],[-2.08,2.60],[-1.82,2.60],[-1.52,2.60],[-1.30,2.60],[-1.16,2.60],[-0.98,2.60],[-1.96,2.54],[-1.48,2.54],[-1.20,2.54],[-0.86,2.54],[-2.08,2.48],[-1.82,2.48],[-1.62,2.48],[-1.30,2.48],[-0.96,2.48],[-0.80,2.48],[-1.70,2.42],[-1.26,2.42],[-0.86,2.42],[-0.72,2.42],[-1.38,2.36],[-1.26,2.36],[-0.66,2.36],[-1.92,2.30],[-1.46,2.30],[-1.16,2.30],[-0.78,2.30],[-0.60,2.30],[-1.84,2.22],[-1.58,2.22],[-1.32,2.22],[-0.80,2.22],[-0.48,2.22],[-1.68,2.16],[-1.24,2.16],[-0.72,2.16],[-0.40,2.16],[-1.58,2.06],[-1.45,2.06],[-0.62,2.06],[-0.46,2.06],[-0.35,1.96],[-0.55,1.96]];
var shade_r4c2 = [[-1.14,2.15],[-1.08,2.10],[-1.05,2.04],[-1.30,2.03],[-1.28,1.97],[-1.19,1.94],[-1.14,1.91],[-1.05,1.97],[-0.97,2.02],[-0.88,2.03],[-0.94,1.96],[-0.83,1.93],[-1.02,1.88],[-1.22,1.87],[-1.14,1.82],[-0.97,1.79],[-0.86,1.85],[-0.74,1.85],[-0.80,1.76],[-0.72,1.81],[-0.69,1.71],[-0.88,1.72],[-1.00,1.75],[-1.11,1.68],[-1.00,1.60],[-0.85,1.59],[-0.74,1.60],[-0.72,1.56],[-0.88,1.48],[-1.16,1.78],[-1.30,1.97],[-1.05,1.90],[-0.95,1.85],[-0.90,1.78],[-0.80,1.70],[-0.85,1.65],[-1.10,1.85],[-0.78,1.80]];
var sun_r4c2 = [[-1.32,2.18],[-1.25,2.18],[-1.19,2.18],[-1.02,2.17],[-0.97,2.17],[-1.33,2.07],[-1.33,2.00],[-1.33,1.94],[-1.28,1.90],[-1.14,2.09],[-1.02,2.09],[-0.88,2.04],[-0.80,1.97],[-0.72,1.91],[-0.74,1.82],[-0.91,1.87],[-1.05,1.81],[-1.02,1.71],[-0.86,1.66],[-0.80,1.68],[-0.88,1.63],[-0.72,1.76]];
var shadeLine_r4c2 = [[-1.331,2.022],[-0.701,1.705]];
var sunLine_r4c2 = [[-1.317,2.088],[-0.715,1.764]];
var shadeBand_r4c2 = [-1.331,1.956,2.074, -1.016,1.845,1.885, -0.701,1.676,1.750];
var sunBand_r4c2 = [-1.317,2.044,2.147, -1.016,1.905,1.945, -0.715,1.705,1.808];

// Panel r4c3: x = log Nmass, y = log LMA
var wright_r4c3 = [[-0.27,3.18],[-0.55,2.93],[-0.49,2.94],[-0.35,2.96],[-0.25,2.99],[-0.21,2.95],[0.07,2.89],[-0.51,2.90],[-0.55,2.78],[-0.46,2.83],[-0.38,2.84],[-0.21,2.83],[-0.13,2.85],[-0.06,2.88],[-0.44,2.72],[-0.34,2.71],[-0.25,2.77],[-0.17,2.74],[-0.08,2.71],[0.00,2.72],[0.08,2.69],[0.17,2.68],[-0.61,2.58],[-0.55,2.58],[-0.46,2.63],[-0.38,2.62],[-0.30,2.60],[-0.21,2.63],[-0.13,2.62],[-0.02,2.63],[0.04,2.60],[0.13,2.59],[0.23,2.56],[0.31,2.55],[-0.42,2.55],[-0.34,2.50],[-0.25,2.50],[-0.17,2.53],[-0.08,2.50],[0.00,2.50],[0.08,2.50],[0.17,2.47],[0.25,2.47],[-0.42,2.43],[-0.34,2.41],[-0.25,2.43],[-0.17,2.41],[-0.08,2.41],[0.02,2.43],[0.13,2.41],[0.21,2.41],[0.32,2.44],[0.38,2.35],[0.42,2.32],[-0.44,2.35],[-0.44,2.31],[-0.34,2.32],[-0.25,2.35],[-0.17,2.32],[-0.08,2.35],[0.02,2.32],[0.13,2.34],[0.23,2.32],[0.32,2.30],[-0.49,2.27],[-0.41,2.24],[-0.30,2.27],[-0.21,2.24],[-0.13,2.24],[0.23,2.24],[0.34,2.21],[0.46,2.18],[0.56,2.26],[0.49,2.15],[0.40,2.10],[0.55,2.07],[0.59,2.10],[0.59,2.03],[-0.31,2.11],[-0.19,1.94],[-0.08,1.81],[0.51,1.97],[0.59,1.94],[0.67,1.97],[0.72,1.91],[0.74,1.85],[0.78,1.79],[0.76,1.74],[0.67,1.78],[0.63,1.74],[0.59,1.71],[0.63,1.65],[0.59,1.59],[0.55,1.53],[0.63,1.51],[0.70,1.47],[0.76,1.43],[0.80,1.41],[0.72,1.35],[0.63,1.32],[0.67,1.26],[0.74,1.25],[0.61,1.15],[0.38,1.23],[0.27,1.20],[0.21,1.29],[0.13,1.38],[0.08,1.41],[0.04,1.48],[0.17,1.50],[0.08,1.56],[0.02,1.60],[0.00,1.69],[-0.04,1.78],[0.08,1.69],[0.34,1.56],[0.44,1.47],[0.46,1.41],[0.38,1.37],[0.27,1.37],[0.30,1.44],[0.38,1.76],[0.32,1.82],[0.23,1.91],[0.08,1.88],[0.61,1.87],[0.49,1.79],[0.44,1.68],[0.08,1.48],
  [-0.58,2.85],[-0.50,2.80],[-0.42,2.88],[-0.32,2.90],[-0.28,2.80],[-0.15,2.78],[-0.40,2.75],[-0.55,2.68],[-0.48,2.70],[-0.30,2.66],[-0.22,2.68],[-0.05,2.78],[0.05,2.75],[-0.60,2.62],[-0.52,2.52],[-0.45,2.57],[-0.35,2.55],[-0.28,2.57],[-0.18,2.56],[-0.05,2.56],[0.05,2.55],[0.10,2.65],[0.20,2.62],[-0.50,2.45],[-0.40,2.47],[-0.30,2.45],[-0.20,2.46],[-0.12,2.45],[-0.02,2.46],[0.08,2.45],[0.18,2.44],[0.28,2.50],[-0.38,2.38],[-0.28,2.38],[-0.20,2.36],[-0.12,2.37],[-0.04,2.38],[0.06,2.38],[0.17,2.37],[0.27,2.38],[0.36,2.40],[-0.35,2.28],[-0.25,2.30],[-0.17,2.28],[-0.08,2.28],[0.02,2.26],[0.10,2.28],[0.18,2.28],[0.28,2.27],[0.40,2.26],[0.45,2.20],[-0.25,2.20],[-0.16,2.18],[0.33,2.16],[0.42,2.12],[0.50,2.22],[0.52,2.05],[0.46,2.00],[0.40,1.95],[0.60,2.00],[0.65,1.90],[0.55,1.85],[0.45,1.88],[0.68,1.82],[0.70,1.70],[0.62,1.78],[0.55,1.68],[0.66,1.60],[0.72,1.55],[0.60,1.55],[0.54,1.58],[0.65,1.45],[0.70,1.38],[0.58,1.40],[0.50,1.42],[0.55,1.32],[0.60,1.25],[0.67,1.30],[0.52,1.28],[0.45,1.35],[0.40,1.30],[0.35,1.45],[0.26,1.48],[0.20,1.42],[0.15,1.52],[0.12,1.60],[0.22,1.55],[0.30,1.62],[0.40,1.58],[0.78,1.62],[0.74,1.48],[0.80,1.52],[0.30,1.18],[0.42,1.20],[0.20,1.12],[0.50,1.15],
  [-0.60,2.95],[-0.45,2.95],[-0.15,2.95],[-0.62,2.88],[-0.35,2.88],[-0.20,2.88],[-0.10,2.88],[-0.60,2.82],[-0.48,2.82],[-0.36,2.82],[-0.24,2.82],[-0.08,2.82],[0.02,2.82],[-0.62,2.75],[-0.52,2.75],[-0.33,2.75],[-0.20,2.75],[-0.10,2.75],[0.12,2.75],[-0.62,2.68],[-0.40,2.68],[-0.15,2.68],[0.00,2.68],[0.12,2.68],[0.25,2.68],[-0.40,2.62],[-0.25,2.62],[-0.08,2.62],[0.00,2.62],[0.28,2.62],[-0.58,2.56],[-0.38,2.56],[-0.12,2.56],[0.12,2.56],[0.20,2.56],[0.38,2.56],[-0.58,2.50],[-0.47,2.50],[-0.30,2.50],[0.04,2.50],[0.12,2.50],[0.22,2.50],[0.35,2.50],[-0.55,2.44],[-0.45,2.44],[-0.36,2.44],[-0.04,2.44],[0.26,2.44],[0.40,2.44],[-0.52,2.38],[-0.32,2.38],[-0.16,2.38],[0.00,2.38],[0.10,2.38],[0.22,2.38],[0.46,2.38],[-0.55,2.32],[-0.30,2.32],[-0.12,2.32],[0.06,2.32],[0.36,2.32],[0.50,2.32],[-0.45,2.26],[-0.38,2.26],[-0.02,2.26],[0.06,2.26],[0.14,2.26],[0.35,2.26],[0.52,2.26],[-0.35,2.20],[-0.20,2.20],[-0.08,2.20],[0.28,2.20],[0.38,2.20],[0.55,2.20],[-0.40,2.14],[-0.28,2.14],[0.28,2.14],[0.48,2.14],[0.60,2.14],[-0.22,2.08],[0.45,2.08],[0.62,2.08],[0.38,2.02],[0.48,2.02],[0.66,2.02],[0.44,1.96],[0.55,1.96],[0.62,1.96],[0.76,1.96],[0.50,1.90],[0.58,1.90],[0.70,1.90],[0.45,1.84],[0.62,1.84],[0.74,1.84],[0.80,1.84],[0.55,1.78],[0.72,1.78],[0.48,1.72],[0.66,1.72],[0.78,1.72],[0.42,1.66],[0.60,1.66],[0.72,1.66],[0.48,1.60],[0.66,1.60],[0.74,1.60],[0.30,1.54],[0.44,1.54],[0.68,1.54],[0.78,1.54],[0.20,1.48],[0.32,1.48],[0.40,1.48],[0.58,1.48],[0.70,1.48],[0.26,1.42],[0.36,1.42],[0.62,1.42],[0.74,1.42],[0.22,1.36],[0.34,1.36],[0.48,1.36],[0.60,1.36],[0.80,1.36],[0.30,1.30],[0.46,1.30],[0.64,1.30],[0.72,1.30],[0.34,1.24],[0.48,1.24],[0.56,1.24],[0.70,1.24],[0.40,1.18],[0.55,1.18],[0.65,1.18]];
var shade_r4c3 = [[0.15,2.15],[0.19,2.16],[0.17,2.09],[-0.06,2.06],[-0.02,2.00],[0.04,2.00],[0.08,1.94],[0.13,2.03],[0.23,2.03],[0.30,2.04],[0.21,1.96],[0.13,1.91],[0.15,1.85],[0.21,1.84],[0.25,1.87],[0.34,1.91],[0.38,1.85],[0.34,1.79],[0.27,1.76],[0.23,1.74],[0.32,1.72],[0.38,1.68],[0.46,1.81],[0.51,1.78],[0.49,1.74],[0.30,1.60],[0.34,1.57],[0.46,1.60],[0.51,1.57],[0.56,1.48],[0.04,1.90],[0.08,1.81],[0.44,1.57],[0.10,1.97],[0.20,1.90],[0.28,1.85],[0.36,1.80],[0.42,1.75],[0.26,1.95],[0.18,2.05],[0.40,1.70],[0.48,1.66],[0.32,1.66]];
var sun_r4c3 = [[-0.09,2.18],[0.01,2.18],[0.13,2.18],[0.23,2.18],[0.33,2.17],[-0.08,2.13],[0.21,2.10],[0.17,2.02],[0.25,2.00],[0.38,2.03],[0.04,1.91],[0.30,1.91],[0.36,1.91],[0.50,1.95],[0.25,1.81],[0.34,1.76],[0.21,1.71],[0.36,1.68],[0.44,1.66],[0.57,1.62],[0.11,1.82],[0.38,1.59]];
var shadeLine_r4c3 = [[-0.063,2.088],[0.569,1.646]];
var sunLine_r4c3 = [[-0.084,2.162],[0.569,1.691]];
var shadeBand_r4c3 = [-0.063,2.029,2.147, 0.25,1.845,1.895, 0.569,1.617,1.683];
var sunBand_r4c3 = [-0.084,2.103,2.228, 0.24,1.905,1.955, 0.569,1.639,1.735];

// Panel r4c4: x = log Amass, y = log LMA
var wright_r4c4 = [[0.68,2.81],[0.95,2.87],[1.06,2.89],[0.94,2.72],[1.40,2.87],[1.51,2.83],[1.62,2.74],[1.36,2.70],[1.10,2.61],[1.28,2.56],[1.41,2.56],[1.49,2.66],[1.66,2.66],[1.51,2.60],[1.66,2.59],[1.07,2.49],[1.06,2.41],[1.16,2.49],[1.22,2.43],[1.31,2.49],[1.38,2.50],[1.48,2.50],[1.56,2.50],[1.64,2.47],[1.74,2.50],[1.80,2.52],[2.01,2.45],[1.44,2.41],[1.54,2.41],[1.64,2.40],[1.74,2.41],[1.83,2.41],[1.93,2.40],[2.01,2.38],[1.26,2.31],[1.35,2.32],[1.41,2.31],[1.51,2.34],[1.61,2.31],[1.70,2.32],[1.80,2.31],[1.90,2.32],[1.20,2.27],[0.97,2.18],[1.51,2.27],[1.62,2.25],[1.74,2.27],[1.85,2.27],[1.96,2.25],[2.06,2.24],[2.18,2.18],[2.29,2.16],[2.37,2.15],[2.45,2.13],[2.13,2.15],[2.23,2.10],[2.34,2.06],[2.42,2.04],[2.52,2.00],[2.60,1.94],[2.54,1.91],[2.62,1.85],[2.67,1.84],[2.71,1.79],[2.78,1.74],[2.81,1.69],[2.75,1.66],[2.68,1.68],[2.62,1.71],[2.55,1.66],[2.62,1.60],[2.71,1.59],[2.81,1.54],[2.85,1.53],[2.58,1.54],[2.52,1.60],[2.45,1.56],[2.37,1.60],[2.39,1.54],[2.34,1.44],[2.42,1.37],[2.55,1.44],[2.60,1.32],[2.83,1.40],[2.42,1.65],[2.29,1.71],[2.23,1.63],[2.16,1.51],[2.06,1.48],[1.96,1.51],[1.87,1.56],[1.67,1.50],[1.51,1.66],[1.51,1.62],[1.57,2.30],[1.77,1.63],[2.14,2.21],[1.25,2.16],[1.38,2.16],[2.29,2.00],[2.37,1.93],[2.19,2.03],
  [1.35,2.55],[1.45,2.58],[1.55,2.55],[1.62,2.58],[1.70,2.45],[1.80,2.45],[1.90,2.45],[1.40,2.45],[1.30,2.42],[1.25,2.38],[1.35,2.36],[1.45,2.36],[1.55,2.36],[1.65,2.36],[1.75,2.36],[1.85,2.36],[1.95,2.35],[2.05,2.32],[2.12,2.30],[1.40,2.28],[1.60,2.28],[1.70,2.28],[1.80,2.28],[1.90,2.28],[2.00,2.28],[2.10,2.24],[2.20,2.24],[2.30,2.20],[1.40,2.20],[1.30,2.24],[1.92,2.20],[2.02,2.18],[2.22,2.15],[2.40,2.10],[2.50,2.08],[2.30,2.08],[2.45,2.00],[2.55,1.95],[2.65,1.90],[2.70,1.85],[2.48,1.88],[2.58,1.82],[2.66,1.76],[2.74,1.72],[2.80,1.66],[2.50,1.78],[2.40,1.74],[2.55,1.70],[2.62,1.65],[2.70,1.62],[2.78,1.58],[2.45,1.66],[2.35,1.68],[2.40,1.60],[2.48,1.55],[2.60,1.52],[2.68,1.50],[2.75,1.48],[2.85,1.60],[2.88,1.50],[2.30,1.55],[2.26,1.50],[2.20,1.42],[2.10,1.56],[2.35,1.47],[2.15,2.05],[2.25,1.98],[2.35,1.90],[2.42,1.83],[1.55,2.65],[1.75,2.55],[1.85,2.52],
  [1.20,2.62],[1.30,2.62],[1.42,2.62],[1.75,2.62],[1.20,2.50],[1.50,2.50],[1.62,2.50],[1.72,2.50],[1.92,2.50],[1.50,2.42],[1.60,2.42],[1.98,2.42],[2.08,2.42],[1.25,2.34],[2.18,2.34],[2.28,2.34],[1.50,2.26],[2.35,2.26],[2.42,2.26],[1.90,2.18],[2.00,2.18],[2.10,2.18],[2.45,2.18],[2.55,2.18],[2.05,2.10],[2.15,2.10],[2.58,2.10],[2.38,2.02],[2.62,2.02],[2.72,2.02],[2.30,1.96],[2.42,1.96],[2.70,1.96],[2.78,1.96],[2.45,1.90],[2.58,1.90],[2.75,1.90],[2.50,1.82],[2.65,1.82],[2.80,1.82],[2.32,1.74],[2.58,1.74],[2.82,1.74],[2.52,1.66],[2.86,1.66],[2.55,1.58],[2.65,1.58],[2.90,1.58],[2.40,1.50],[2.52,1.50],[2.80,1.50],[2.45,1.44],[2.62,1.44],[2.72,1.44]];
var shade_r4c4 = [[1.35,1.99],[1.41,2.03],[1.51,2.06],[1.61,2.12],[1.69,2.15],[1.74,2.12],[1.80,2.06],[1.90,2.03],[1.48,1.94],[1.57,1.96],[1.67,1.97],[1.77,1.94],[1.87,1.94],[1.96,1.91],[2.06,1.88],[1.39,1.84],[1.48,1.81],[1.57,1.79],[1.64,1.82],[1.70,1.76],[1.80,1.76],[1.90,1.82],[2.00,1.82],[2.13,1.81],[1.61,1.78],[1.70,1.68],[1.78,1.72],[1.88,1.72],[1.98,1.69],[1.93,1.62],[2.00,1.57],[2.06,1.59],[2.13,1.59],[2.26,1.59],[2.19,1.49],[2.08,1.91],[1.55,1.90],[1.65,1.88],[1.75,1.85],[1.85,1.82],[1.95,1.78],[2.05,1.75],[1.45,1.88]];
var sun_r4c4 = [[1.30,2.11],[1.62,2.18],[1.70,2.18],[1.88,2.15],[2.03,2.16],[1.96,2.10],[1.92,2.03],[2.01,2.06],[2.11,2.03],[2.06,1.97],[2.19,1.97],[2.23,1.94],[2.26,1.91],[2.19,1.84],[2.34,1.85],[2.40,1.81],[2.45,1.78],[2.49,1.69],[2.23,1.76],[2.21,1.66],[2.10,1.65],[2.23,1.56],[1.80,1.79],[1.51,2.09]];
var shadeLine_r4c4 = [[1.345,2.059],[2.266,1.654]];
var sunLine_r4c4 = [[1.312,2.184],[2.494,1.698]];
var shadeBand_r4c4 = [1.345,1.956,2.103, 1.80,1.83,1.88, 2.266,1.595,1.720];
var sunBand_r4c4 = [1.312,2.132,2.272, 1.90,1.92,1.965, 2.494,1.639,1.750];

// panel texts
var slopeTexts = {
  r1c1: '0.56(0.49,0.63)', r2c1: '0.45(0.49,0.63)', r2c2: '0.82(0.73,0.90)',
  r3c1: '0.76(0.67,0.86)', r3c2: '1.37(1.19,1.56)', r3c3: '1.69(1.48,1.93)',
  r4c1: '-0.50(-0.55,-0.44)', r4c2: '-0.89(-1.01,-0.78)', r4c3: '-1.10(-1.24,-0.97)', r4c4: '-0.65 (-0.74, -0.57)'
};
var interceptMarks = {
  r1c1: '***', r2c1: '***', r2c2: 'ns', r3c1: '**', r3c2: '***', r3c3: '***',
  r4c1: '***', r4c2: 'ns', r4c3: '**', r4c4: '***'
};
var legendNames = ['shade leaves', 'sun leaves', 'Wright et al. 2004'];

// ---------------- LAYOUT / STYLE ----------------
var F = "'Liberation Serif','Times New Roman',serif";
var C_SHADE = '#F8766D', C_SUN = '#00BFC4', C_GREY = '#CCCCCC', C_BAND = 'rgba(35,35,35,0.55)';
var GL = [148, 674, 1200, 1726], GT = [143, 867, 1591, 2315], GW = 500, GH = 696;
var PT = 24;

var textPos = {
  r1c1: [8, 69, 'left', 10, 633, 690],
  r2c1: [16, 64, 'left', 16, 625, 681],
  r2c2: [45, 64, 'left', 191, 627, 686],
  r3c1: [6, 50, 'left', 10, 624, 684],
  r3c2: [27, 50, 'left', 10, 628, 688],
  r3c3: [24, 50, 'left', 191, 624, 684],
  r4c1: [5, 47, 'left', 14, 618, 678],
  r4c2: [485, 45, 'right', 0, 618, 678],
  r4c3: [489, 45, 'right', 4, 625, 683],
  r4c4: [496, 45, 'right', 1, 618, 678]
};

var panels = [];
for (var r = 0; r < 4; r++) for (var c = 0; c <= r; c++) panels.push([r, c]);

function fmt(v) { var s = Math.abs(v).toFixed(1); return (v < -1e-9 ? '\u2212' : '') + s; }

var grids = [], xAxes = [], yAxes = [], series = [], graphics = [];

function bandRender(params, api) {
  var pts = [], i;
  for (i = 0; i < 3; i++) pts.push(api.coord([api.value(i * 3), api.value(i * 3 + 2)]));
  for (i = 2; i >= 0; i--) pts.push(api.coord([api.value(i * 3), api.value(i * 3 + 1)]));
  return { type: 'polygon', shape: { points: pts }, style: { fill: C_BAND } };
}

panels.forEach(function (p, g) {
  var r = p[0], c = p[1], key = 'r' + (r + 1) + 'c' + (c + 1);
  grids.push({ left: GL[c], top: GT[r], width: GW, height: GH, show: true, borderColor: '#000', borderWidth: 3, backgroundColor: 'transparent' });
  xAxes.push({
    gridIndex: g, type: 'value', min: xRanges[c][0], max: xRanges[c][1],
    axisLine: { show: false }, splitLine: { show: false },
    axisTick: { show: r === 3, length: 13, lineStyle: { color: '#333', width: 4 }, customValues: xTicks[c] },
    axisLabel: { show: r === 3, customValues: xTicks[c], formatter: fmt, fontSize: 64, fontFamily: F, color: '#000', margin: 24 }
  });
  yAxes.push({
    gridIndex: g, type: 'value', min: yRanges[r][0], max: yRanges[r][1],
    axisLine: { show: false }, splitLine: { show: false },
    axisTick: { show: c === 0, length: 12, lineStyle: { color: '#333', width: 4 }, customValues: yTicks[r] },
    axisLabel: { show: c === 0, customValues: yTicks[r], formatter: fmt, fontSize: 64, fontFamily: F, color: '#000', margin: 26 }
  });
  var W = window['wright_' + key], S = window['shade_' + key], U = window['sun_' + key];
  series.push({ type: 'scatter', name: legendNames[2], xAxisIndex: g, yAxisIndex: g, data: W, symbolSize: PT, itemStyle: { color: C_GREY, opacity: 1 }, z: 2, silent: true, large: false });
  series.push({ type: 'scatter', name: legendNames[0], xAxisIndex: g, yAxisIndex: g, data: S, symbolSize: PT, itemStyle: { color: C_SHADE, opacity: 1 }, z: 3, silent: true });
  series.push({ type: 'scatter', name: legendNames[1], xAxisIndex: g, yAxisIndex: g, data: U, symbolSize: PT, itemStyle: { color: C_SUN, opacity: 1 }, z: 4, silent: true });
  series.push({ type: 'custom', name: 'band shade', xAxisIndex: g, yAxisIndex: g, data: [window['shadeBand_' + key]], renderItem: bandRender, z: 5, silent: true });
  series.push({ type: 'custom', name: 'band sun', xAxisIndex: g, yAxisIndex: g, data: [window['sunBand_' + key]], renderItem: bandRender, z: 5, silent: true });
  series.push({ type: 'line', name: legendNames[0], xAxisIndex: g, yAxisIndex: g, data: window['shadeLine_' + key], symbol: 'none', lineStyle: { color: C_SHADE, width: 9 }, z: 6, silent: true });
  series.push({ type: 'line', name: legendNames[1], xAxisIndex: g, yAxisIndex: g, data: window['sunLine_' + key], symbol: 'none', lineStyle: { color: C_SUN, width: 9 }, z: 7, silent: true });

  var tp = textPos[key], x0 = GL[c], y0 = GT[r], mark = interceptMarks[key];
  if (mark === 'ns') {
    graphics.push({ type: 'text', x: x0 + tp[0], y: y0 + tp[1] - 17, z: 100,
      style: { text: '{a|Intercept}{b|ns}', textAlign: tp[2], textVerticalAlign: 'middle',
        rich: { a: { fontSize: 50, fontFamily: F, fill: '#000', lineHeight: 60 },
                b: { fontSize: 32, fontFamily: F, fill: '#000', lineHeight: 44, verticalAlign: 'top' } } } });
  } else {
    graphics.push({ type: 'text', x: x0 + tp[0], y: y0 + tp[1] - 17, z: 100,
      style: { text: 'Intercept' + mark, fontSize: 50, fontFamily: F, fill: '#000', textAlign: tp[2], textVerticalAlign: 'middle' } });
  }
  graphics.push({ type: 'text', x: x0 + tp[3], y: y0 + tp[4] - 17, z: 100,
    style: { text: 'Common slope:', fontSize: 50, fontFamily: F, fill: '#000', textAlign: 'left', textVerticalAlign: 'middle' } });
  graphics.push({ type: 'text', x: x0 + tp[3], y: y0 + tp[5] - 17, z: 100,
    style: { text: slopeTexts[key], fontSize: 50, fontFamily: F, fill: '#000', textAlign: 'left', textVerticalAlign: 'middle' } });
});

var richLab = {
  n: { fontSize: 54, fontFamily: F, fill: '#000', lineHeight: 70 },
  i: { fontSize: 54, fontFamily: F, fill: '#000', lineHeight: 70, fontStyle: 'italic' },
  s: { fontSize: 34, fontFamily: F, fill: '#000', lineHeight: 22, verticalAlign: 'bottom' },
  p: { fontSize: 30, fontFamily: F, fill: '#000', lineHeight: 62, verticalAlign: 'top' }
};
var diagLabels = [
  ['{n|log[}{i|R}{s|mass}{n|(n mol g}{p|-1}{n| s}{p|-1}{n| )]}', 146, -2],
  ['{n|log[}{i|P}{s|mass}{n|(% )]}', 770, 439],
  ['{n|log[}{i|N}{s|mass}{n|(% )]}', 1302, 1162],
  ['{n|log[}{i|A}{s|mass}{n|(n mol g}{p|-1}{n| s}{p|-1}{n| )]}', 1757, 1911],
  ['{n|log[LMA(g m}{p|-2}{n| )]}', 2267, 2677]
];
diagLabels.forEach(function (d) {
  graphics.push({ type: 'text', x: d[1], y: d[2], z: 100,
    style: { text: d[0], rich: richLab, textAlign: 'left', textVerticalAlign: 'top' } });
});

var legY = [76, 282, 488], legC = [176, 382, 589], legCol = [C_SHADE, C_SUN, C_GREY];
for (var k = 0; k < 3; k++) {
  graphics.push({ type: 'rect', z: 90, shape: { x: 1955, y: legY[k], width: 188, height: 201 }, style: { fill: '#F0F0F0' } });
  if (k < 2) graphics.push({ type: 'line', z: 91, shape: { x1: 1972, y1: legC[k], x2: 2127, y2: legC[k] }, style: { stroke: legCol[k], lineWidth: 9 } });
  graphics.push({ type: 'circle', z: 92, shape: { cx: 2050, cy: legC[k], r: 23 }, style: { fill: legCol[k] } });
  graphics.push({ type: 'text', z: 92, x: 2206, y: legC[k] - 18, style: { text: legendNames[k], fontSize: 62, fontFamily: F, fill: '#000', textAlign: 'left', textVerticalAlign: 'middle' } });
}

var chart = echarts.init(document.getElementById('c'), null, { renderer: 'canvas' });
chart.setOption({
  backgroundColor: '#fff',
  animation: false,
  grid: grids, xAxis: xAxes, yAxis: yAxes, series: series,
  graphic: { elements: graphics }
});
</script></body></html>
